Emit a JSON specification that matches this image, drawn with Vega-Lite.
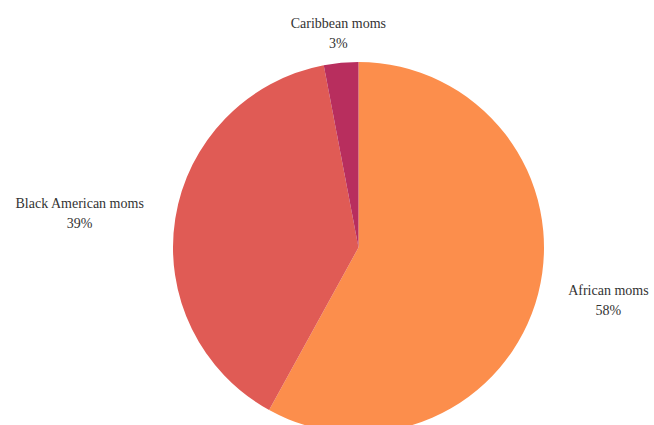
{
  "$schema": "https://vega.github.io/schema/vega-lite/v6.json",
  "autosize": {"type": "none"},
  "width": 591,
  "height": 355,
  "padding": {"left": 63, "top": 70, "right": 0, "bottom": 0},
  "background": "white",
  "config": {"view": {"stroke": null}},
  "data": {
    "values": [
      {"cat": "African moms", "value": 58},
      {"cat": "Black American moms", "value": 39},
      {"cat": "Caribbean moms", "value": 3}
    ]
  },
  "transform": [
    {"calculate": "[datum.cat, datum.value + '%']", "as": "label"}
  ],
  "encoding": {
    "theta": {"field": "value", "type": "quantitative", "stack": true},
    "order": {"field": "cat", "type": "nominal", "sort": "ascending"}
  },
  "layer": [
    {
      "mark": {"type": "arc", "radius": 185.5, "stroke": null},
      "encoding": {
        "color": {
          "field": "cat",
          "type": "nominal",
          "scale": {
            "domain": ["African moms", "Black American moms", "Caribbean moms"],
            "range": ["#FC8E4C", "#E05B55", "#B82E5E"]
          },
          "legend": null
        }
      }
    },
    {
      "mark": {
        "type": "text",
        "font": "Liberation Serif",
        "fontSize": 14,
        "lineHeight": 20,
        "color": "#333333",
        "align": "center",
        "baseline": "middle",
        "radius": 214,
        "dx": {"expr": "abs(sin(PI * (datum.value_start + datum.value_end) / 100)) > 0.5 ? (sin(PI * (datum.value_start + datum.value_end) / 100) > 0 ? 1 : -1) * 3.55 * length(datum.cat) : 0"},
        "dy": -10
      },
      "encoding": {
        "detail": {"field": "cat", "type": "nominal"},
        "text": {"field": "label"}
      }
    }
  ]
}
